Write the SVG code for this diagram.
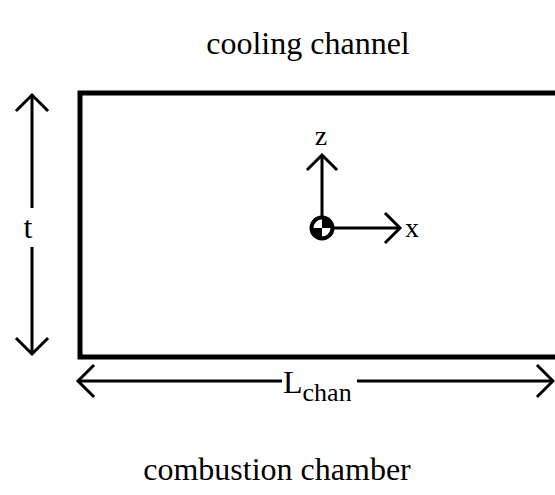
<svg xmlns="http://www.w3.org/2000/svg" width="555" height="495" viewBox="0 0 555 495">
<style>
text{font-family:"Liberation Serif","Times New Roman",serif;fill:#000}
.lbl{font-size:32px}
.ax{font-size:28px}
.ln{stroke:#000;stroke-width:3;fill:none}
.hd{stroke:#000;stroke-width:3;fill:none;stroke-linecap:square}
</style>
<rect width="555" height="495" fill="#fff"/>
<g id="title-top"><text class="lbl" x="308" y="54" text-anchor="middle">cooling channel</text></g>
<g id="channel"><rect x="80" y="93" width="490" height="264" fill="none" stroke="#000" stroke-width="5"/></g>
<g id="origin">
<circle cx="322" cy="228" r="10.5" fill="#fff" stroke="#000" stroke-width="4"/>
<path d="M322,228 V217.5 A10.5,10.5 0 0 1 332.5,228 Z" fill="#000"/>
<path d="M322,228 V238.5 A10.5,10.5 0 0 1 311.5,228 Z" fill="#000"/>
</g>
<g id="connectors">
<line class="ln" x1="32" y1="95" x2="32" y2="208"/>
<line class="ln" x1="32" y1="247" x2="32" y2="354"/>
<polyline class="hd" points="17,110 32,95 47,110"/>
<polyline class="hd" points="17,339 32,354 47,339"/>
<line class="ln" x1="322" y1="218" x2="322" y2="155"/>
<polyline class="hd" points="308,169 322,155 336,169"/>
<line class="ln" x1="332" y1="228" x2="400" y2="228"/>
<polyline class="hd" points="386,214 400,228 386,242"/>
<line class="ln" x1="78" y1="381" x2="282" y2="381"/>
<line class="ln" x1="357" y1="381" x2="553" y2="381"/>
<polyline class="hd" points="93,366 78,381 93,396"/>
<polyline class="hd" points="538,366 553,381 538,396"/>
</g>
<g id="label-t"><text class="lbl" x="28" y="238" text-anchor="middle">t</text></g>
<g id="label-z"><text class="ax" x="321" y="145" text-anchor="middle">z</text></g>
<g id="label-x"><text class="ax" x="405" y="237">x</text></g>
<g id="label-L"><text class="lbl" x="283" y="393">L<tspan font-size="26" dy="8">chan</tspan></text></g>
<g id="title-bottom"><text class="lbl" x="277" y="480" text-anchor="middle">combustion chamber</text></g>
</svg>
